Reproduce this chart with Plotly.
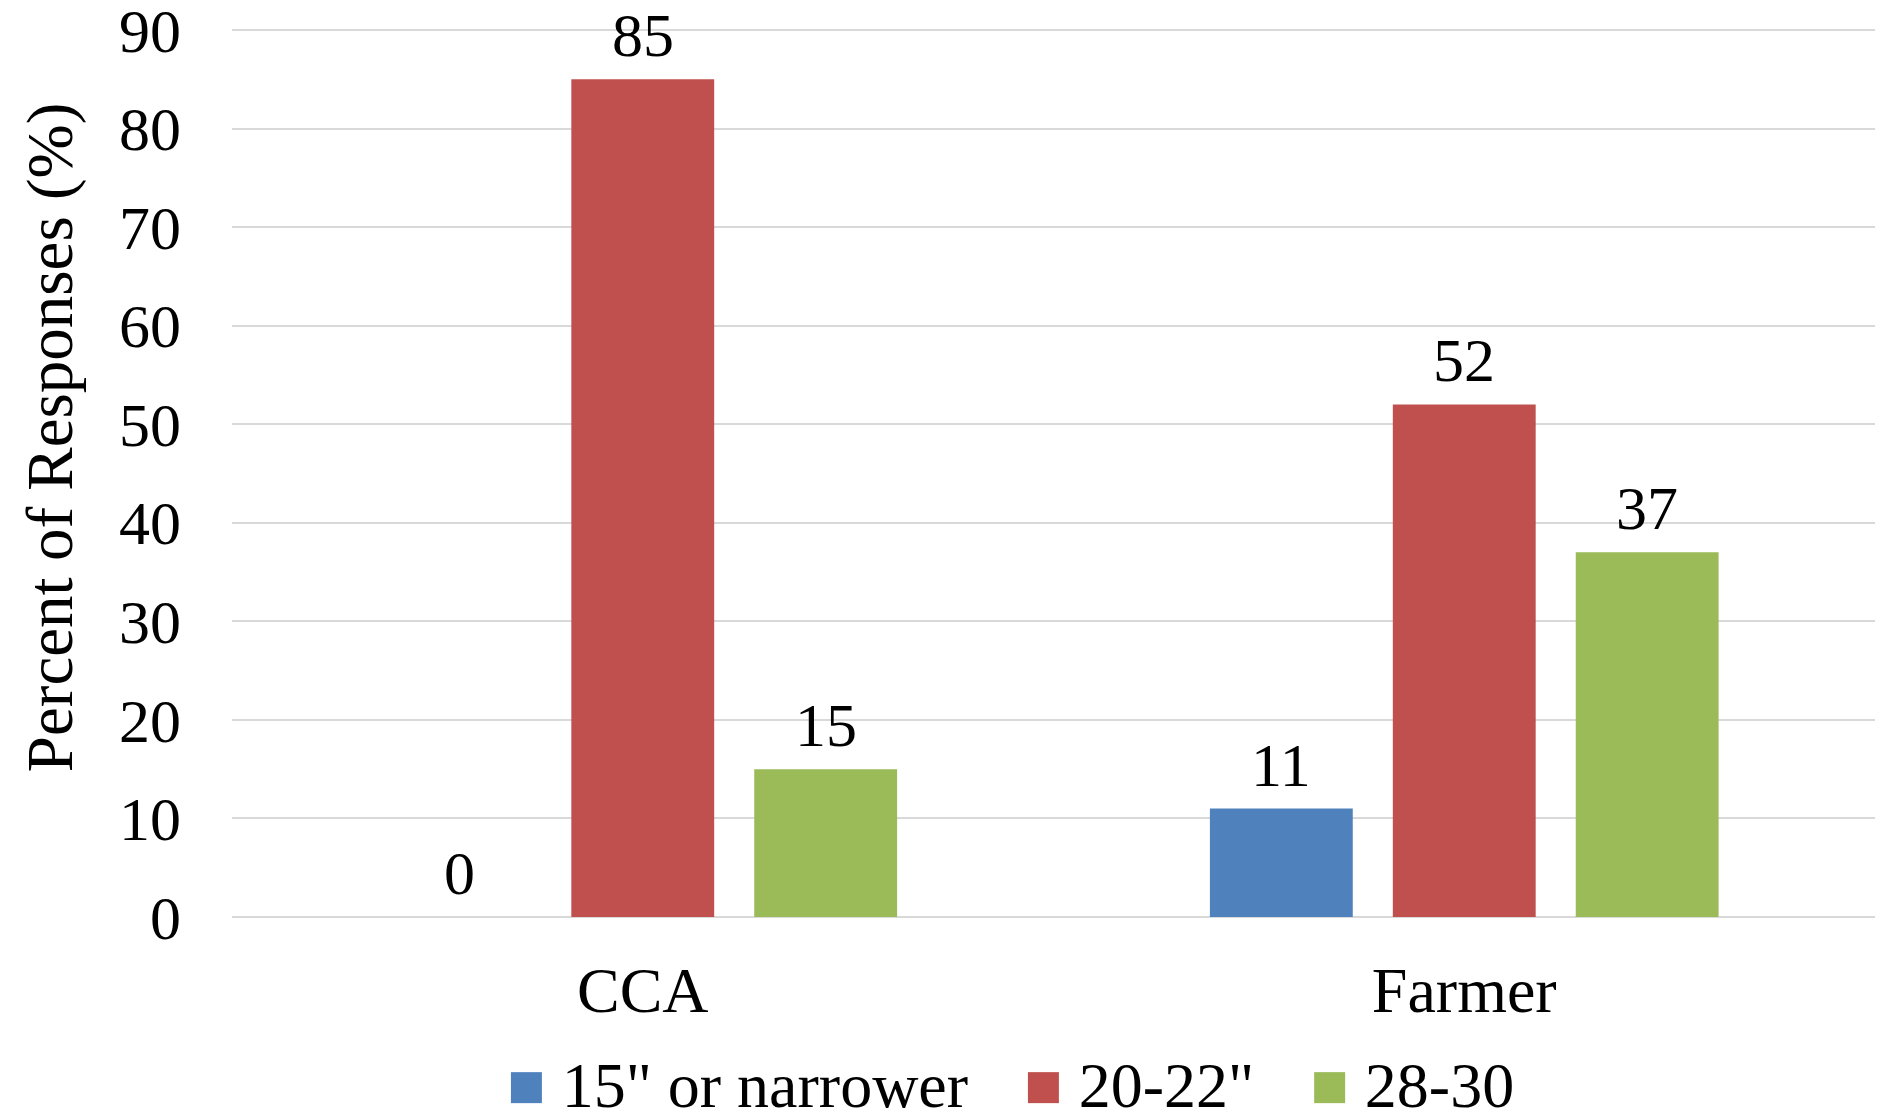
import plotly.graph_objects as go

# 資料
categories = ['CCA', 'Farmer']
series_names = ['15" or narrower', '20-22"', '28-30']
series_values = [
    [0, 11],
    [85, 52],
    [15, 37],
]
series_colors = ['#4F81BD', '#C0504D', '#9BBB59']
y_ticks = [0, 10, 20, 30, 40, 50, 60, 70, 80, 90]

FONT = 'Liberation Serif, Times New Roman, serif'
FS = 62
BARGAP = 0.332

fig = go.Figure()

for name, vals, color in zip(series_names, series_values, series_colors):
    fig.add_trace(
        go.Bar(
            x=categories,
            y=vals,
            name=name,
            marker_color=color,
            marker_line_width=0,
            showlegend=False,
        )
    )

# 數值標籤（放在柱頂上方）
slot = (1 - BARGAP) / len(series_names)
for k, vals in enumerate(series_values):
    for i, v in enumerate(vals):
        fig.add_annotation(
            x=i + (k - 1) * slot,
            y=v,
            text=str(v),
            showarrow=False,
            yanchor='middle',
            yshift=44,
            font=dict(family=FONT, size=FS, color='black'),
        )

# 圖例（手動，方塊較大）
legend_parts = []
for name, color in zip(series_names, series_colors):
    legend_parts.append(f"<span style='color:{color}'>■</span>&nbsp;{name}")
spacer = "<span style='font-size:56px'>&nbsp;&nbsp;&nbsp;&nbsp;</span>"
legend_text = spacer.join(legend_parts)

fig.add_annotation(
    text=legend_text,
    xref='paper', yref='paper',
    x=0.474, y=-0.189,
    xanchor='center', yanchor='middle',
    showarrow=False,
    font=dict(family=FONT, size=64, color='black'),
)

# Y 軸標題
fig.add_annotation(
    text='Percent of Responses (%)',
    xref='paper', yref='paper',
    x=-0.111, y=0.538,
    xanchor='center', yanchor='middle',
    textangle=-90,
    showarrow=False,
    font=dict(family=FONT, size=65, color='black'),
)

fig.update_layout(
    width=1897,
    height=1111,
    margin=dict(l=232, r=22, t=26, b=194),
    barmode='group',
    bargap=BARGAP,
    bargroupgap=0.219,
    plot_bgcolor='white',
    paper_bgcolor='white',
    font=dict(family=FONT, size=FS, color='black'),
)

fig.update_yaxes(
    range=[0, 90.4],
    tickvals=y_ticks,
    automargin=False,
    showgrid=True,
    gridcolor='#D9D9D9',
    gridwidth=1.5,
    zeroline=True,
    zerolinecolor='#D9D9D9',
    zerolinewidth=1.5,
    showline=False,
    ticks='',
    ticklabelstandoff=50,
    ticklabeloverflow='allow',
    tickfont=dict(family=FONT, size=FS, color='black'),
)

fig.update_xaxes(
    automargin=False,
    showgrid=False,
    showline=False,
    ticks='',
    ticklabelstandoff=30,
    tickfont=dict(family=FONT, size=64, color='black'),
)

fig.write_html(
    'out.html',
    config={'displayModeBar': False},
    post_script="document.body.style.margin='0';",
)
